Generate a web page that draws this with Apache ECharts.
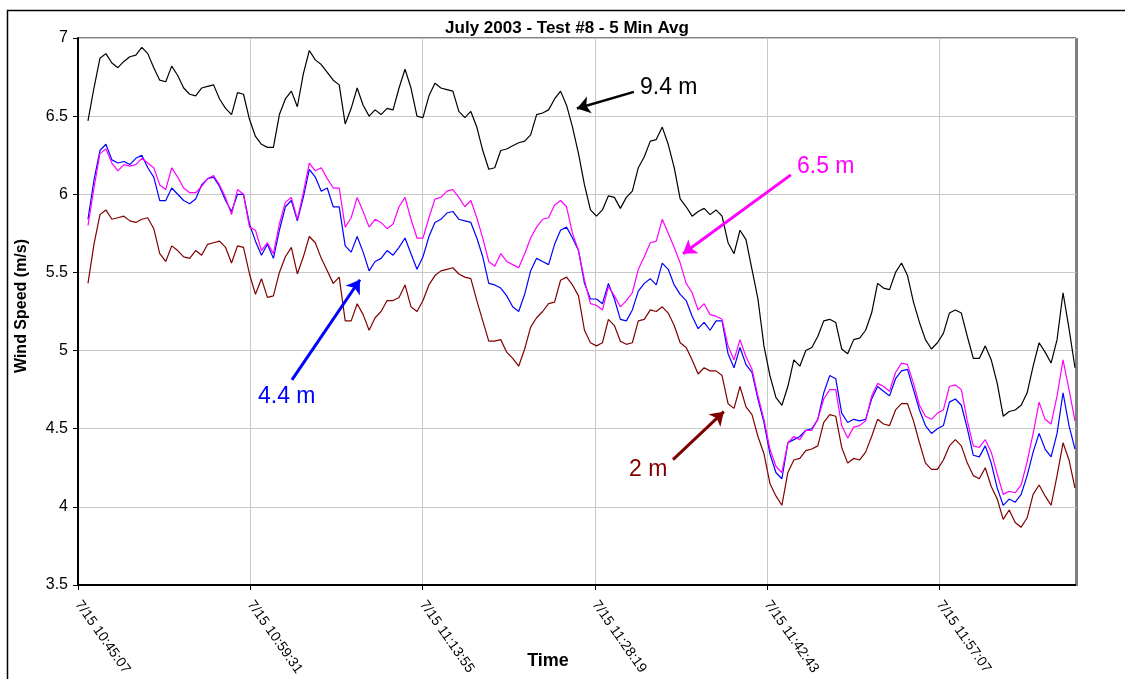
<!DOCTYPE html>
<html>
<head>
<meta charset="utf-8">
<script src="https://cdn.jsdelivr.net/npm/echarts/dist/echarts.min.js"></script>
<style>
html,body{margin:0;padding:0;background:#fff;}
#chart{width:1125px;height:679px;}
</style>
</head>
<body>
<div id="chart"></div>
<script>
// ---- data (5-min average wind speed, m/s), sampled every 30 s ----
const BASE_CLOCK = 10 * 3600 + 45 * 60 + 7;   // 10:45:07 on 7/15
const START_OFFSET = 50;                        // first sample, seconds after base
const STEP = 30;                                // seconds between samples
const AXIS_MAX = 5005;
const TICK_INTERVAL = 864;                      // 14 min 24 s

const h94 = [6.47,6.68,6.87,6.90,6.84,6.81,6.85,6.88,6.89,6.94,6.90,6.81,6.73,6.72,6.82,6.76,6.68,6.64,6.63,6.68,6.69,6.70,6.61,6.55,6.51,6.65,6.64,6.48,6.37,6.32,6.30,6.30,6.51,6.61,6.66,6.56,6.77,6.92,6.86,6.83,6.78,6.73,
 6.70,6.45,6.55,6.68,6.57,6.50,6.54,6.51,6.55,6.54,6.68,6.80,6.68,6.50,6.49,6.63,6.71,6.68,6.67,6.66,6.53,6.49,6.53,6.43,6.28,6.16,6.17,6.28,6.29,6.31,6.33,6.34,6.38,6.51,6.52,6.54,6.61,6.66,6.57,6.43,6.26,6.06,
 5.90,5.86,5.90,5.99,5.98,5.91,5.98,6.02,6.17,6.24,6.34,6.35,6.43,6.32,6.17,5.97,5.92,5.86,5.89,5.91,5.87,5.90,5.86,5.69,5.62,5.77,5.71,5.52,5.33,5.03,4.84,4.70,4.65,4.77,4.94,4.90,5.00,5.02,5.09,5.19,5.20,
 5.18,5.01,4.98,5.07,5.08,5.13,5.24,5.43,5.40,5.39,5.50,5.56,5.48,5.31,5.18,5.07,5.01,5.05,5.11,5.24,5.26,5.24,5.09,4.95,4.95,5.03,4.94,4.79,4.58,4.61,4.62,4.65,4.73,4.90,5.05,4.99,4.92,5.07,5.37,5.14,4.89];

const h65 = [5.80,6.04,6.26,6.29,6.20,6.15,6.19,6.18,6.19,6.23,6.20,6.17,6.06,6.03,6.17,6.11,6.04,6.01,6.01,6.05,6.10,6.12,6.06,5.98,5.87,6.03,6.00,5.79,5.77,5.64,5.69,5.62,5.81,5.95,5.98,5.84,6.01,6.20,6.15,6.17,6.10,6.04,
 6.04,5.79,5.85,5.98,5.89,5.79,5.84,5.82,5.78,5.81,5.92,5.98,5.84,5.72,5.72,5.85,5.97,5.98,6.02,6.03,5.98,5.92,5.96,5.85,5.72,5.57,5.54,5.62,5.57,5.55,5.53,5.62,5.72,5.79,5.84,5.85,5.93,5.96,5.92,5.75,5.64,5.45,
 5.30,5.29,5.26,5.41,5.35,5.28,5.32,5.37,5.52,5.60,5.69,5.70,5.84,5.75,5.66,5.56,5.43,5.37,5.26,5.30,5.23,5.22,5.20,5.03,4.94,5.07,4.96,4.88,4.71,4.56,4.37,4.26,4.22,4.41,4.45,4.43,4.49,4.49,4.56,4.69,4.75,
 4.75,4.52,4.44,4.51,4.52,4.55,4.71,4.79,4.77,4.74,4.86,4.92,4.91,4.79,4.65,4.58,4.56,4.60,4.62,4.77,4.78,4.75,4.55,4.39,4.38,4.43,4.35,4.21,4.08,4.10,4.09,4.14,4.29,4.47,4.67,4.56,4.53,4.71,4.94,4.75,4.55];

const h44 = [5.84,6.09,6.28,6.32,6.22,6.20,6.21,6.19,6.23,6.25,6.17,6.11,5.96,5.96,6.04,6.00,5.96,5.94,5.97,6.06,6.10,6.11,6.05,5.96,5.89,6.00,6.00,5.81,5.70,5.61,5.68,5.59,5.77,5.92,5.96,5.83,5.98,6.16,6.11,6.02,6.04,5.92,
 5.92,5.67,5.63,5.73,5.63,5.51,5.57,5.59,5.64,5.61,5.66,5.72,5.62,5.52,5.60,5.73,5.82,5.84,5.88,5.89,5.84,5.83,5.82,5.72,5.60,5.43,5.42,5.40,5.35,5.28,5.25,5.36,5.51,5.59,5.57,5.55,5.68,5.77,5.79,5.72,5.64,5.43,
 5.33,5.33,5.30,5.43,5.33,5.20,5.19,5.26,5.38,5.43,5.46,5.42,5.56,5.52,5.42,5.36,5.32,5.22,5.14,5.18,5.13,5.19,5.19,4.98,4.89,5.02,4.91,4.86,4.69,4.54,4.34,4.22,4.18,4.41,4.43,4.45,4.49,4.50,4.56,4.73,4.84,
 4.82,4.60,4.54,4.56,4.55,4.56,4.69,4.77,4.74,4.71,4.82,4.87,4.88,4.75,4.62,4.52,4.47,4.50,4.52,4.67,4.69,4.65,4.50,4.33,4.32,4.39,4.28,4.12,4.01,4.05,4.03,4.08,4.20,4.35,4.47,4.37,4.32,4.47,4.73,4.52,4.37];

const h20 = [5.43,5.68,5.87,5.90,5.84,5.85,5.86,5.83,5.82,5.84,5.85,5.78,5.62,5.57,5.67,5.64,5.60,5.59,5.64,5.61,5.68,5.69,5.70,5.66,5.56,5.67,5.66,5.49,5.36,5.46,5.34,5.35,5.50,5.60,5.66,5.49,5.60,5.73,5.69,5.59,5.51,5.43,
 5.47,5.19,5.19,5.30,5.23,5.13,5.21,5.25,5.32,5.32,5.34,5.42,5.28,5.25,5.32,5.42,5.48,5.51,5.52,5.53,5.49,5.47,5.46,5.32,5.19,5.06,5.06,5.07,4.99,4.95,4.90,5.01,5.15,5.21,5.25,5.30,5.31,5.45,5.47,5.42,5.35,5.13,
 5.05,5.03,5.05,5.20,5.16,5.06,5.04,5.05,5.19,5.20,5.26,5.25,5.28,5.24,5.16,5.05,5.02,4.94,4.85,4.89,4.87,4.87,4.84,4.66,4.63,4.77,4.64,4.59,4.45,4.34,4.15,4.07,4.01,4.22,4.30,4.31,4.36,4.37,4.39,4.54,4.59,
 4.58,4.38,4.28,4.31,4.30,4.35,4.45,4.56,4.53,4.52,4.62,4.66,4.66,4.55,4.41,4.28,4.24,4.24,4.30,4.39,4.43,4.39,4.28,4.20,4.18,4.25,4.13,4.05,3.92,3.98,3.90,3.87,3.93,4.08,4.14,4.07,4.01,4.20,4.41,4.30,4.12];

const seriesNames = ['9.4 m', '6.5 m', '4.4 m', '2 m'];
const seriesColors = ['#000000', '#ff00ff', '#0000ff', '#800000'];

// annotation arrows: [from(time s, m/s), to(time s, m/s)]
const arrows = {
  '9.4 m': [[2788, 6.655], [2502, 6.549]],
  '6.5 m': [[3575, 6.124], [3034, 5.619]],
  '4.4 m': [[1073, 4.813], [1414, 5.453]],
  '2 m':   [[2984, 4.302], [3239, 4.609]]
};

const timeSec = h94.map((_, i) => START_OFFSET + STEP * i);

function pad(n){ return (n < 10 ? '0' : '') + n; }
function clock(v){
  const s = BASE_CLOCK + v;
  const h = Math.floor(s / 3600), m = Math.floor((s % 3600) / 60), sec = s % 60;
  return '7/15 ' + h + ':' + pad(m) + ':' + pad(sec);
}

const FONT = 'Arial, "Liberation Sans", sans-serif';
const dataSets = [h94, h65, h44, h20];
const zOrder = [3, 5, 4, 3];

const series = dataSets.map((arr, i) => ({
  name: seriesNames[i],
  type: 'line',
  data: arr.map((v, k) => [timeSec[k], v]),
  showSymbol: false,
  symbol: 'none',
  lineStyle: { color: seriesColors[i], width: 1.2 },
  itemStyle: { color: seriesColors[i] },
  z: zOrder[i],
  markLine: {
    silent: true,
    symbol: ['none', 'arrow'],
    symbolSize: 13,
    label: { show: false },
    lineStyle: { color: seriesColors[i], width: i === 0 ? 2.5 : 3, type: 'solid' },
    itemStyle: { color: seriesColors[i] },
    emphasis: { disabled: true },
    data: [[{ coord: arrows[seriesNames[i]][0] }, { coord: arrows[seriesNames[i]][1] }]]
  }
}));

const chart = echarts.init(document.getElementById('chart'), null, { renderer: 'canvas' });
chart.setOption({
  animation: false,
  backgroundColor: '#ffffff',
  textStyle: { fontFamily: FONT },
  grid: { left: 78, right: 49, top: 38, bottom: 94, show: true, borderColor: '#000', borderWidth: 1, backgroundColor: '#fff' },
  xAxis: {
    type: 'value',
    min: 0,
    max: AXIS_MAX,
    interval: TICK_INTERVAL,
    axisLine: { show: true, onZero: false, lineStyle: { color: '#000', width: 2 } },
    axisTick: { show: true, length: 5, lineStyle: { color: '#000' } },
    splitLine: { show: true, lineStyle: { color: '#c8c8c8', width: 1 } },
    axisLabel: {
      rotate: -55,
      margin: 17,
      fontSize: 14,
      color: '#000',
      fontFamily: FONT,
      showMaxLabel: false,
      formatter: v => (v % TICK_INTERVAL === 0 ? clock(v) : '')
    }
  },
  yAxis: {
    type: 'value',
    min: 3.5,
    max: 7,
    interval: 0.5,
    axisLine: { show: true, lineStyle: { color: '#000', width: 2 } },
    axisTick: { show: true, length: 5, lineStyle: { color: '#000' } },
    splitLine: { show: true, lineStyle: { color: '#c8c8c8', width: 1 } },
    axisLabel: { fontSize: 16, color: '#000', margin: 10, fontFamily: FONT }
  },
  series: series,
  graphic: [
    { type: 'rect', shape: { x: 7.5, y: 10.5, width: 1300, height: 800 }, style: { fill: 'none', stroke: '#000', lineWidth: 1.5 }, z: 0, silent: true },
    { type: 'line', shape: { x1: 1077, y1: 38, x2: 1077, y2: 586 }, style: { stroke: '#808080', lineWidth: 2 }, z: 100, silent: true },
    { type: 'text', x: 567, y: 28, style: { text: 'July 2003 - Test #8 - 5 Min Avg', font: 'bold 17px ' + FONT, fill: '#000', textAlign: 'center', textVerticalAlign: 'middle' }, z: 100 },
    { type: 'text', x: 22, y: 306, rotation: Math.PI / 2, style: { text: 'Wind Speed (m/s)', font: 'bold 16px ' + FONT, fill: '#000', textAlign: 'center', textVerticalAlign: 'middle' }, z: 100 },
    { type: 'text', x: 548, y: 661, style: { text: 'Time', font: 'bold 18px ' + FONT, fill: '#000', textAlign: 'center', textVerticalAlign: 'middle' }, z: 100 },
    { type: 'text', x: 640, y: 88, style: { text: '9.4 m', font: '23px ' + FONT, fill: '#000000', textAlign: 'left', textVerticalAlign: 'middle' }, z: 100 },
    { type: 'text', x: 797, y: 167, style: { text: '6.5 m', font: '23px ' + FONT, fill: '#ff00ff', textAlign: 'left', textVerticalAlign: 'middle' }, z: 100 },
    { type: 'text', x: 258, y: 397, style: { text: '4.4 m', font: '23px ' + FONT, fill: '#0000ff', textAlign: 'left', textVerticalAlign: 'middle' }, z: 100 },
    { type: 'text', x: 629, y: 470, style: { text: '2 m', font: '23px ' + FONT, fill: '#800000', textAlign: 'left', textVerticalAlign: 'middle' }, z: 100 }
  ]
});
</script>
</body>
</html>
